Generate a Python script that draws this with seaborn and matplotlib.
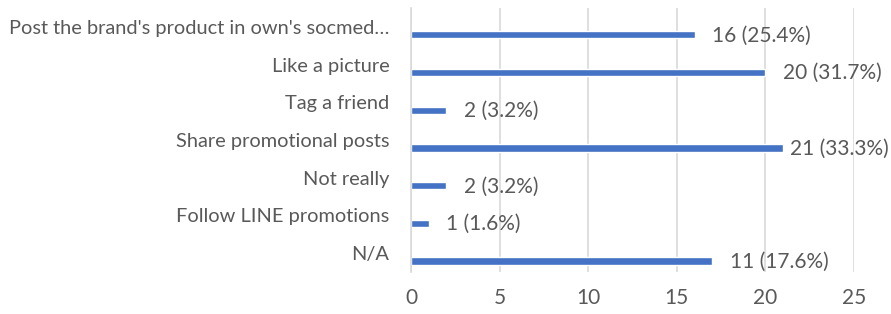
import pandas as pd
import seaborn as sns
import matplotlib.pyplot as plt

sns.set_style("white")
plt.rcParams['font.family'] = ['Lato', 'DejaVu Sans']

categories = ["Post the brand's product in own's socmed…", "Like a picture", "Tag a friend",
              "Share promotional posts", "Not really", "Follow LINE promotions", "N/A"]
counts = [16, 20, 2, 21, 2, 1, 17]
value_labels = ["16 (25.4%)", "20 (31.7%)", "2 (3.2%)", "21 (33.3%)",
                "2 (3.2%)", "1 (1.6%)", "11 (17.6%)"]

df = pd.DataFrame({"answer": categories, "count": counts})

grey = "#595959"
fig = plt.figure(figsize=(8.91, 3.14), dpi=100)
ax = fig.add_axes([411 / 891, 1 - 272 / 314, (854 - 411) / 891, (272 - 8) / 314])

sns.barplot(data=df, y="answer", x="count", orient="h", color="#4472C4",
            width=0.19, saturation=1, ax=ax)
# Excel puts the bars a bit below the category centre
for p in ax.patches:
    p.set_y(p.get_y() + 0.21)

ax.set_xlim(0, 25)
ax.set_ylim(6.5, -0.5)
ax.set_xticks(range(0, 26, 5))
ax.xaxis.grid(True, color="#d9d9d9", linewidth=1.2)
ax.set_axisbelow(True)
for s in ["top", "right", "bottom"]:
    ax.spines[s].set_visible(False)
ax.spines["left"].set_color("#d9d9d9")
ax.spines["left"].set_linewidth(1.2)
ax.tick_params(axis="x", length=0, colors=grey, labelsize=15, pad=11.5)
ax.tick_params(axis="y", length=0, colors=grey, labelsize=14.4, pad=15.5)
ax.set_xlabel("")
ax.set_ylabel("")

texts = []
for i, (v, lab) in enumerate(zip(counts, value_labels)):
    t = ax.annotate(lab, (v, i + 0.23), xytext=(12.5, 0), textcoords="offset points",
                    ha="left", va="center", color=grey, fontsize=15)
    texts.append(t)

# keep labels inside the figure like Excel does
fig.canvas.draw()
r = fig.canvas.get_renderer()
for t in texts:
    bb = t.get_window_extent(r)
    if bb.x1 > fig.bbox.width - 1:
        dx = (bb.x1 - fig.bbox.width + 2) * 72 / fig.dpi
        x0, y0 = t.xyann
        t.xyann = (x0 - dx, y0)

fig.savefig("out.png", dpi=100)
